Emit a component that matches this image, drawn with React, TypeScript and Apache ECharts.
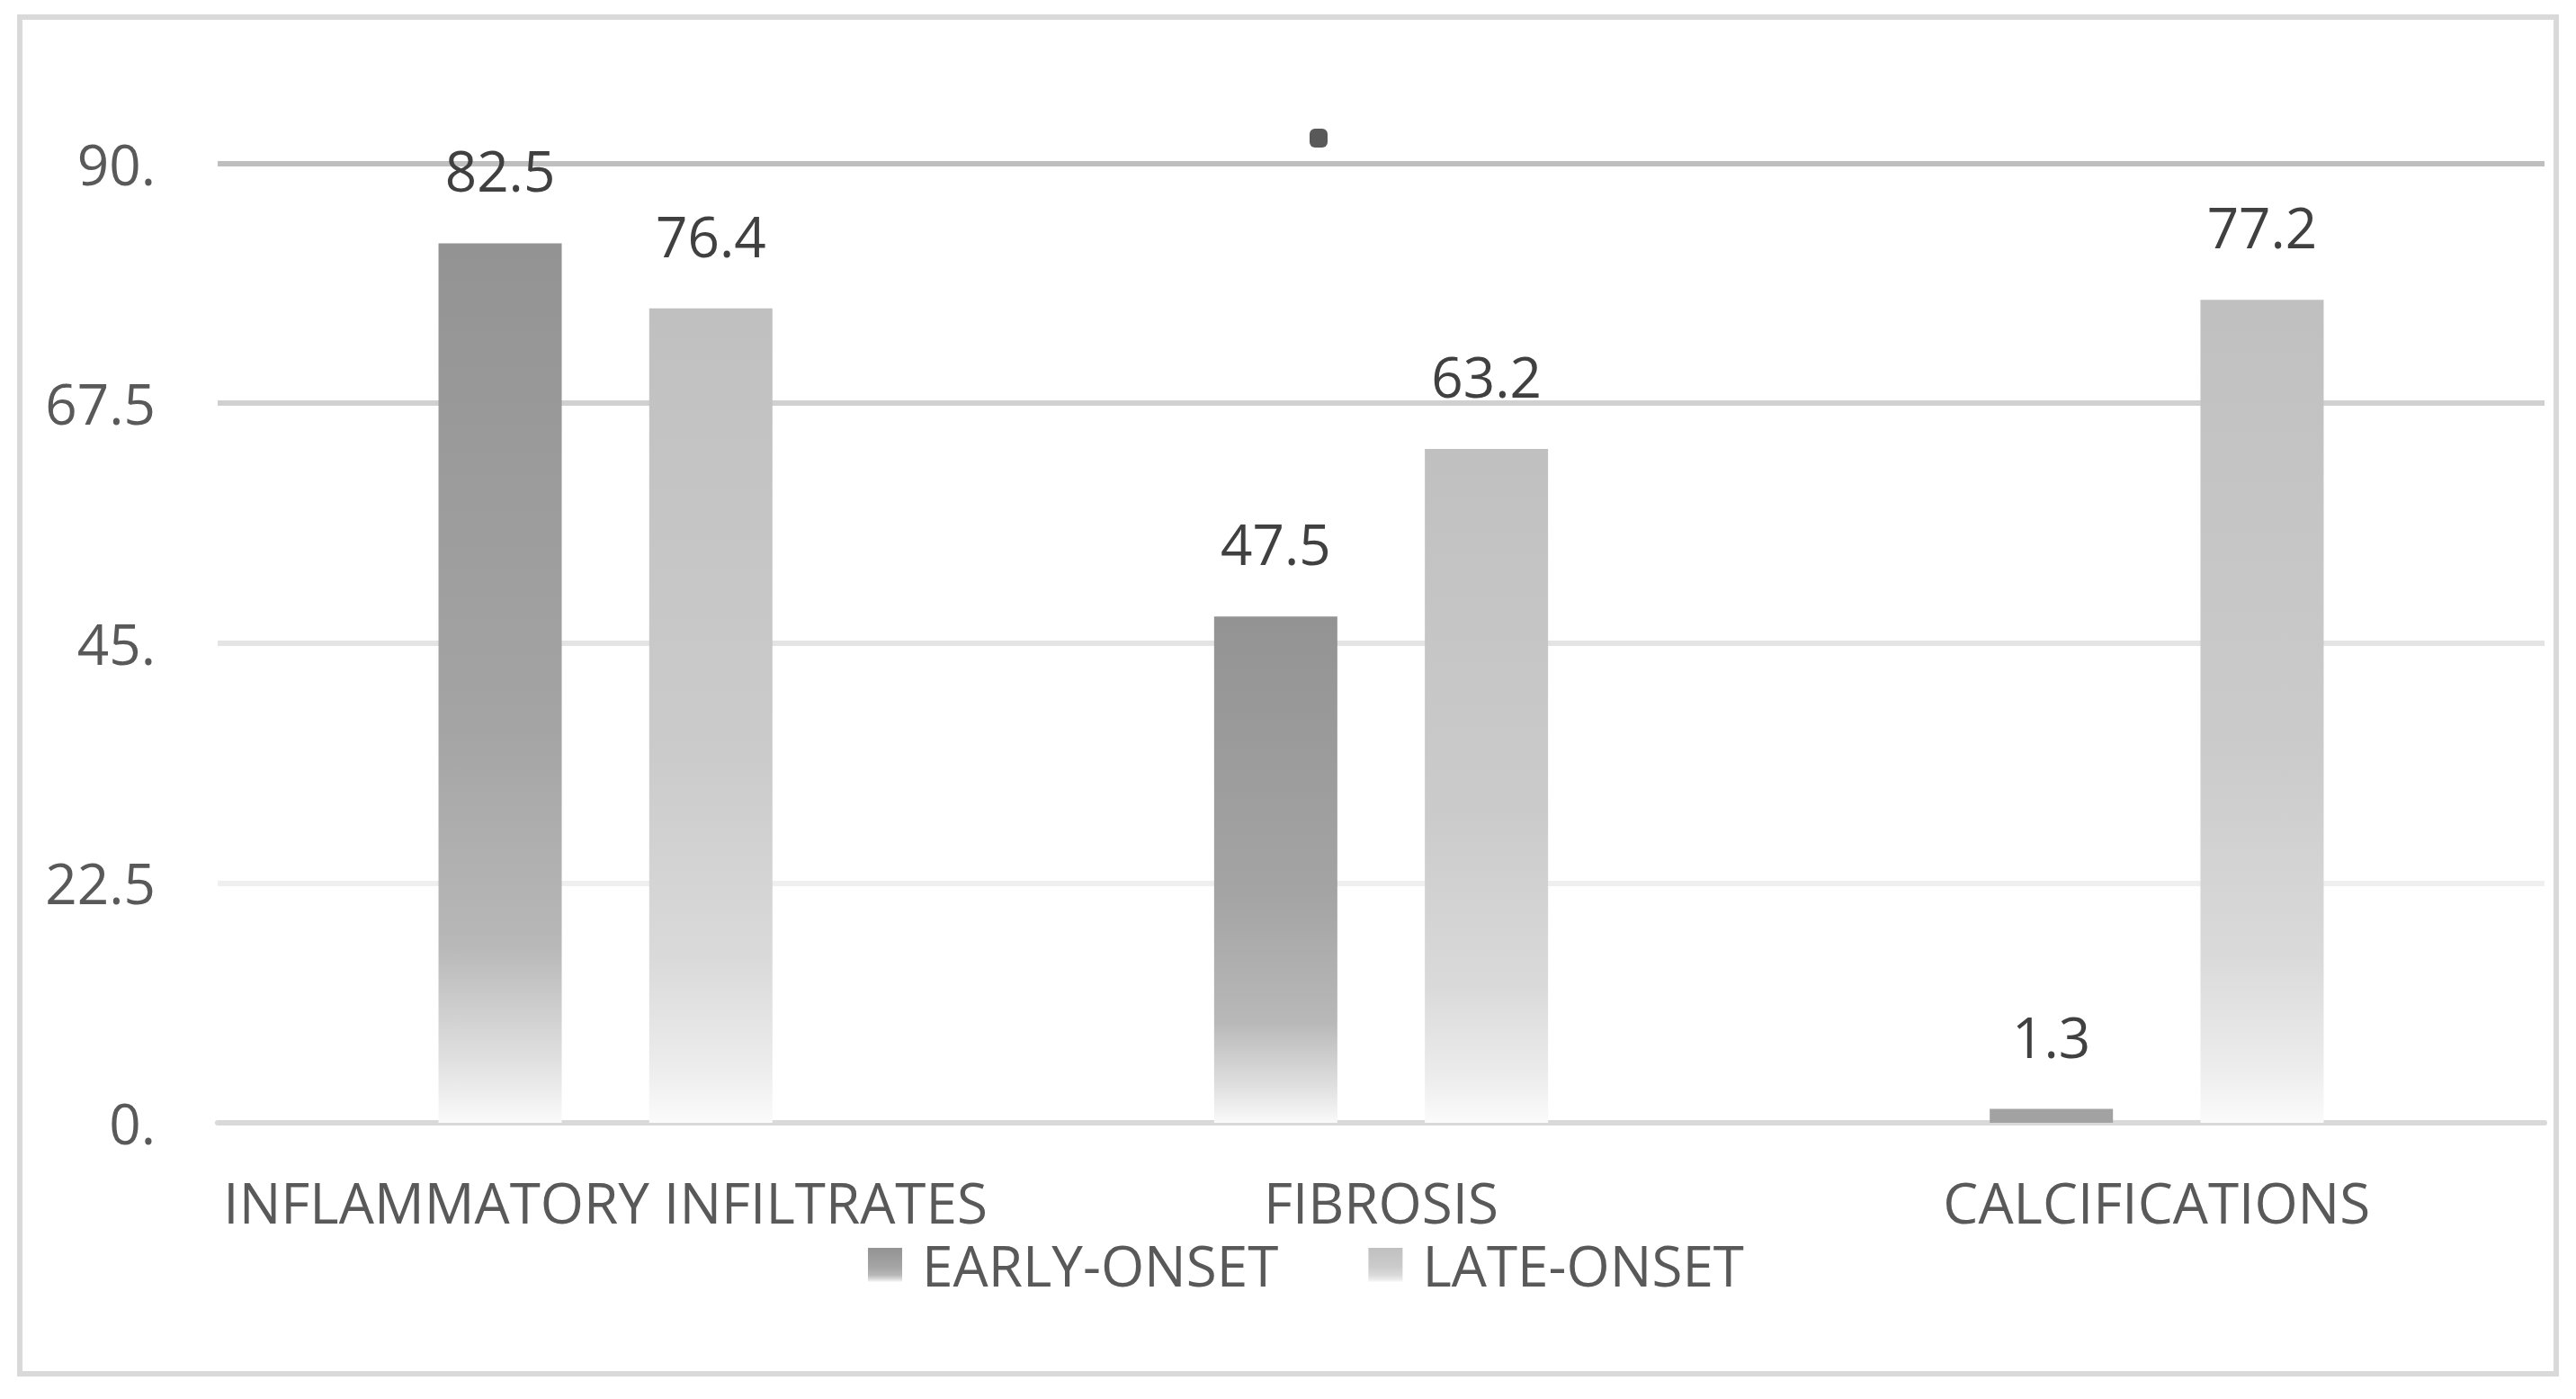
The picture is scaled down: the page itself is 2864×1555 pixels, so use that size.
import React, { useEffect, useRef } from "react";
import * as echarts from "echarts";

const categories = ["INFLAMMATORY INFILTRATES", "FIBROSIS", "CALCIFICATIONS"];
const seriesNames = ["EARLY-ONSET", "LATE-ONSET"];
const earlyOnset = [82.5, 47.5, 1.3];
const lateOnset = [76.4, 63.2, 77.2];
const yTickLabels = ["0.", "22.5", "45.", "67.5", "90."];

const FONT = "Open Sans";
const FS = 62;

export default function App() {
  const ref = useRef<HTMLDivElement>(null);
  useEffect(() => {
    if (!ref.current) return;
    const chart = echarts.init(ref.current, null, { renderer: "svg" });
    const earlyGrad = new echarts.graphic.LinearGradient(0, 0, 0, 1, [
      { offset: 0, color: "#939393" },
      { offset: 0.55, color: "#a4a4a4" },
      { offset: 0.8, color: "#b8b8b8" },
      { offset: 0.93, color: "#e0e0e0" },
      { offset: 1, color: "#fafafa" },
    ]);
    const lateGrad = new echarts.graphic.LinearGradient(0, 0, 0, 1, [
      { offset: 0, color: "#c0c0c0" },
      { offset: 0.55, color: "#cbcbcb" },
      { offset: 0.8, color: "#dadada" },
      { offset: 0.93, color: "#ececec" },
      { offset: 1, color: "#fbfbfb" },
    ]);
    const toData = (arr: number[]) =>
      arr.map((v) => (v < 5 ? { value: v, itemStyle: { color: "#a2a2a2" } } : v));
    const labelCfg = {
      show: true,
      position: "top",
      distance: 50,
      fontFamily: FONT,
      fontSize: FS,
      color: "#404040",
    };
    chart.setOption({
      animation: false,
      backgroundColor: "#ffffff",
      textStyle: { fontFamily: FONT },
      grid: { left: 234, right: 27, top: 173.5, bottom: 299, containLabel: false },
      legend: {
        data: seriesNames,
        left: 952,
        top: 1362,
        itemWidth: 38,
        itemHeight: 38,
        itemGap: 100,
        icon: "rect",
        textStyle: {
          fontFamily: FONT,
          fontSize: FS,
          color: "#595959",
          padding: [0, 0, 0, 17],
        },
      },
      xAxis: {
        type: "category",
        data: categories,
        axisLine: { show: true, lineStyle: { color: "#d9d9d9", width: 6 } },
        axisTick: { show: false },
        axisLabel: {
          fontFamily: FONT,
          fontSize: FS,
          color: "#595959",
          margin: 57,
          interval: 0,
        },
      },
      yAxis: {
        type: "value",
        min: 0,
        max: 90,
        interval: 22.5,
        axisLine: { show: false },
        axisTick: { show: false },
        axisLabel: {
          fontFamily: FONT,
          fontSize: FS,
          color: "#595959",
          margin: 69,
          formatter: (_v: number, i: number) => yTickLabels[i],
        },
        splitLine: {
          show: true,
          lineStyle: {
            width: 6,
            color: ["#d9d9d9", "#efefef", "#e4e4e4", "#d0d0d0", "#bfbfbf"],
          },
        },
      },
      series: [
        {
          name: seriesNames[0],
          type: "bar",
          data: toData(earlyOnset),
          barWidth: 137,
          barGap: "71%",
          itemStyle: { color: earlyGrad },
          label: labelCfg,
        },
        {
          name: seriesNames[1],
          type: "bar",
          data: toData(lateOnset),
          barWidth: 137,
          barGap: "71%",
          itemStyle: { color: lateGrad },
          label: labelCfg,
        },
      ],
      graphic: [
        {
          type: "rect",
          shape: { x: 14, y: 11, width: 2820, height: 1508 },
          style: { fill: "none", stroke: "#d9d9d9", lineWidth: 6 },
          silent: true,
        },
        {
          type: "rect",
          shape: { x: 1448, y: 135, width: 20, height: 21, r: 6 },
          style: { fill: "#595959" },
          silent: true,
        },
      ],
    });
    return () => chart.dispose();
  }, []);
  return <div ref={ref} style={{ width: 2848, height: 1539 }} />;
}
